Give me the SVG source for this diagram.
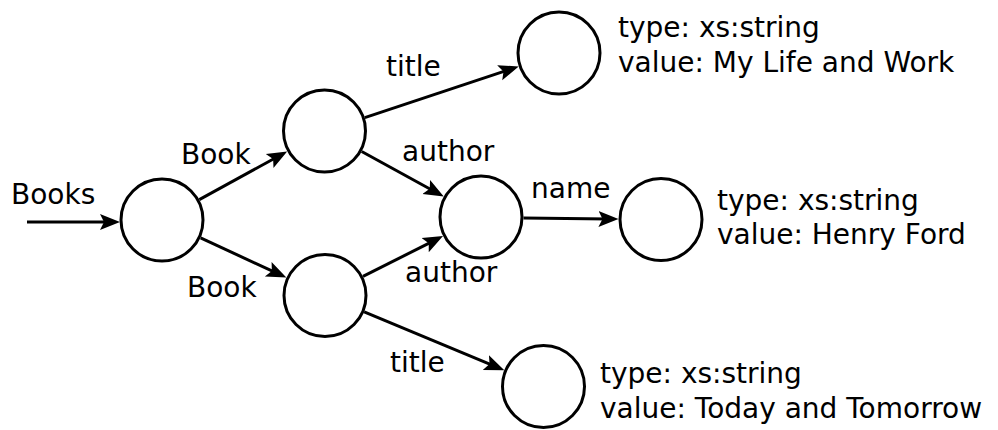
<svg xmlns="http://www.w3.org/2000/svg" width="998" height="430" viewBox="0 0 998 430">
  <style>
    .node { fill: #ffffff; stroke: #000000; stroke-width: 3; }
    .edge { fill: none; stroke: #000000; stroke-width: 3; }
    text { font-family: "DejaVu Sans", "Liberation Sans", sans-serif; font-size: 28px; fill: #000000; }
  </style>
  <defs>
    <marker id="arrow" markerUnits="userSpaceOnUse" markerWidth="24" markerHeight="20" viewBox="0 -10 24 20" refX="10" refY="0" orient="auto">
      <path d="M0,-8 L20,0 L0,8 L4,0 z" fill="#000000"/>
    </marker>
  </defs>
  <rect width="998" height="430" fill="#ffffff"/>

  <!-- connectors -->
  <g id="edges">
    <line class="edge" x1="27" y1="222" x2="110" y2="222" marker-end="url(#arrow)"/>
    <line class="edge" x1="199.3" y1="199.6" x2="278.4" y2="156.2" marker-end="url(#arrow)"/>
    <line class="edge" x1="200.6" y1="237.9" x2="277.3" y2="273.4" marker-end="url(#arrow)"/>
    <line class="edge" x1="364.8" y1="117.6" x2="509.2" y2="69.6" marker-end="url(#arrow)"/>
    <line class="edge" x1="361.7" y1="151.5" x2="435.0" y2="191.7" marker-end="url(#arrow)"/>
    <line class="edge" x1="363" y1="276.4" x2="434.1" y2="240.6" marker-end="url(#arrow)"/>
    <line class="edge" x1="364.2" y1="311.8" x2="495.1" y2="366.4" marker-end="url(#arrow)"/>
    <line class="edge" x1="523.5" y1="218" x2="608.5" y2="219" marker-end="url(#arrow)"/>
  </g>

  <!-- edge labels -->
  <g id="labels">
    <text x="11" y="204">Books</text>
    <text x="181" y="164">Book</text>
    <text x="187" y="297">Book</text>
    <text x="386" y="76">title</text>
    <text x="402" y="161">author</text>
    <text x="405" y="282">author</text>
    <text x="390" y="372">title</text>
    <text x="531" y="198">name</text>
  </g>

  <!-- nodes -->
  <g id="books"><circle class="node" cx="162" cy="220" r="41"/></g>
  <g id="book1"><circle class="node" cx="324.5" cy="131" r="41"/></g>
  <g id="book2"><circle class="node" cx="325" cy="295.5" r="41"/></g>
  <g id="author"><circle class="node" cx="481" cy="217" r="41"/></g>
  <g id="title1">
    <circle class="node" cx="559" cy="53" r="41"/>
    <text x="618" y="37">type: xs:string</text>
    <text x="618" y="72">value: My Life and Work</text>
  </g>
  <g id="name">
    <circle class="node" cx="661" cy="219.5" r="41"/>
    <text x="717" y="209.5">type: xs:string</text>
    <text x="717" y="244">value: Henry Ford</text>
  </g>
  <g id="title2">
    <circle class="node" cx="543.5" cy="386.5" r="41"/>
    <text x="600" y="383">type: xs:string</text>
    <text x="600" y="418">value: Today and Tomorrow</text>
  </g>
</svg>
